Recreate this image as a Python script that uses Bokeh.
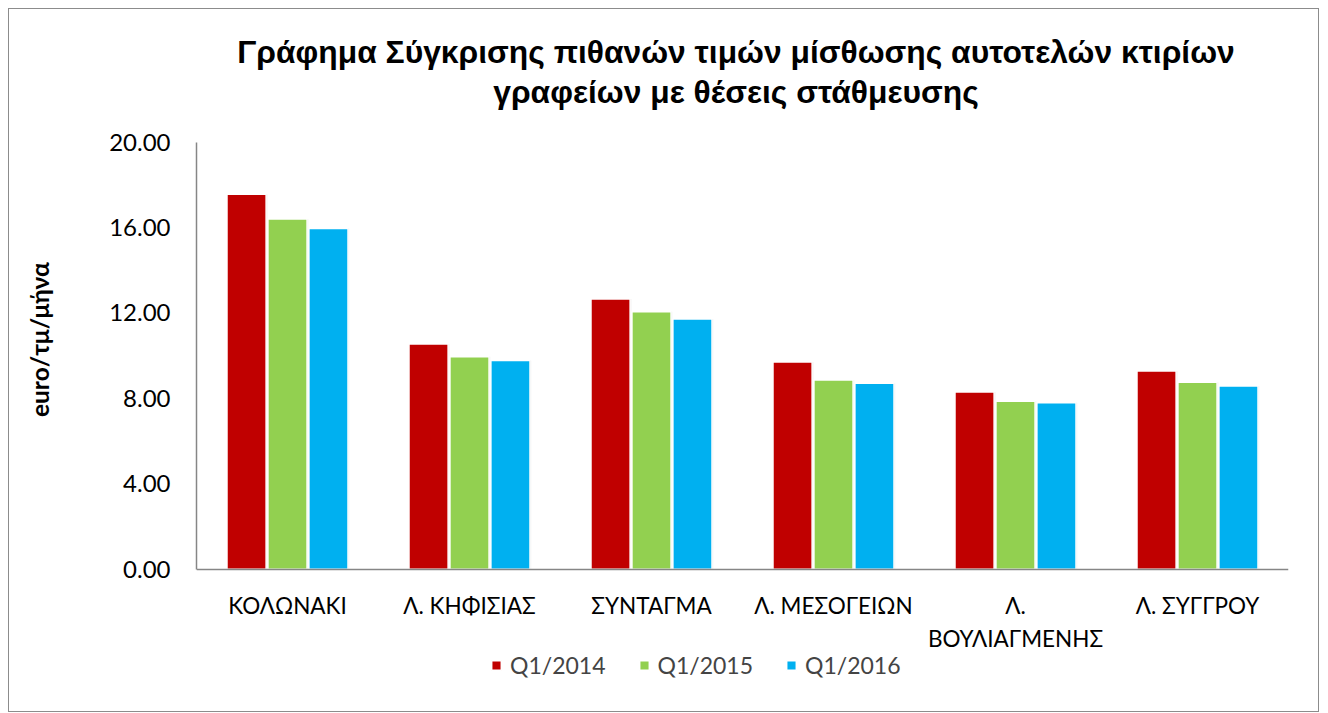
from bokeh.plotting import figure
from bokeh.models import (FactorRange, Range1d, Legend, LegendItem, Label,
                          ColumnDataSource, FixedTicker, NumeralTickFormatter)
from bokeh.transform import dodge
from bokeh.embed import file_html
from bokeh.resources import INLINE

categories = ["ΚΟΛΩΝΑΚΙ", "Λ. ΚΗΦΙΣΙΑΣ", "ΣΥΝΤΑΓΜΑ", "Λ. ΜΕΣΟΓΕΙΩΝ",
              "Λ.\nΒΟΥΛΙΑΓΜΕΝΗΣ", "Λ. ΣΥΓΓΡΟΥ"]
q1_2014 = [17.55, 10.55, 12.65, 9.70, 8.30, 9.28]
q1_2015 = [16.40, 9.95, 12.05, 8.86, 7.87, 8.76]
q1_2016 = [15.95, 9.77, 11.72, 8.71, 7.80, 8.58]
series_names = ["Q1/2014", "Q1/2015", "Q1/2016"]
colors = ["#C00000", "#92D050", "#00B0F0"]
y_ticks = [0, 4, 8, 12, 16, 20]

title_lines = ["Γράφημα Σύγκρισης πιθανών τιμών μίσθωσης αυτοτελών κτιρίων",
               "γραφείων με θέσεις στάθμευσης"]
y_label = "euro/τμ/μήνα"

source = ColumnDataSource(dict(cat=categories, a=q1_2014, b=q1_2015, c=q1_2016))

# frame covers the whole chart height; value axis spans 0..20 only
PX_PER_UNIT = 21.365
FRAME_H = 702
y_top = 20 + (142 - 9.5) / PX_PER_UNIT
y_bot = y_top - FRAME_H / PX_PER_UNIT

p = figure(x_range=FactorRange(*categories), y_range=Range1d(y_bot, y_top),
           frame_width=1092, frame_height=FRAME_H,
           output_backend="svg", toolbar_location=None,
           min_border_left=187, min_border_right=30, min_border_top=0,
           min_border_bottom=0)
p.styles = {"border": "1.5px solid #8c8c8c", "margin-left": "8px", "margin-top": "8px"}

# title (two centred lines)
title_x = (735.5 - 196) / 182.0
for line, ypix in zip(title_lines, [52, 92]):
    p.add_layout(Label(x=title_x, y=(569.3 - ypix) / PX_PER_UNIT, text=line,
                       text_font="Liberation Sans", text_font_size="31.8px",
                       text_font_style="bold", text_color="#000000",
                       text_align="center", text_baseline="middle"))

offsets = [-0.225, 0.0, 0.225]
renderers = []
for col, off, colr in zip(["a", "b", "c"], offsets, colors):
    # soft shadow
    p.vbar(x=dodge("cat", off + 0.006, range=p.x_range), top=col, width=0.215,
           source=source, fill_color="#000000", fill_alpha=0.12, line_color=None)
    r = p.vbar(x=dodge("cat", off, range=p.x_range), top=col, width=0.215,
               source=source, fill_color=colr, line_color="white", line_width=1.5)
    renderers.append(r)

p.xgrid.grid_line_color = None
p.ygrid.grid_line_color = None
p.outline_line_color = None

p.yaxis.bounds = (0, 20)
p.yaxis.ticker = FixedTicker(ticks=y_ticks)
p.yaxis.formatter = NumeralTickFormatter(format="0.00")
p.yaxis.major_tick_line_color = None
p.yaxis.minor_tick_line_color = None
p.yaxis.axis_line_color = "#868686"
p.yaxis.axis_line_width = 1.5
p.yaxis.major_label_text_font = "Lato"
p.yaxis.major_label_text_font_size = "24px"
p.yaxis.major_label_text_color = "#000000"
p.yaxis.major_label_standoff = 20
# leading no-break spaces lift the centred label to the chart's position
p.yaxis.axis_label = "\u00a0" * 7 + y_label
p.yaxis.axis_label_text_font = "Lato"
p.yaxis.axis_label_text_font_size = "24.5px"
p.yaxis.axis_label_text_font_style = "bold"
p.yaxis.axis_label_text_color = "#000000"
p.yaxis.axis_label_standoff = 52

p.xaxis.fixed_location = 0
p.xaxis.major_tick_line_color = None
p.xaxis.axis_line_color = "#868686"
p.xaxis.axis_line_width = 1.5
p.xaxis.major_label_text_font = "Lato"
p.xaxis.major_label_text_font_size = "22.5px"
p.xaxis.major_label_text_color = "#000000"
p.xaxis.major_label_standoff = 17

legend = Legend(items=[LegendItem(label=n, renderers=[r]) for n, r in zip(series_names, renderers)],
                orientation="horizontal", location=(294, 32), border_line_color=None,
                background_fill_alpha=0,
                label_text_font="Lato", label_text_font_size="23px",
                glyph_width=12, glyph_height=12, spacing=32, padding=0, margin=0,
                label_standoff=8)
p.add_layout(legend, "center")

open("out.html", "w").write(file_html(p, INLINE))
